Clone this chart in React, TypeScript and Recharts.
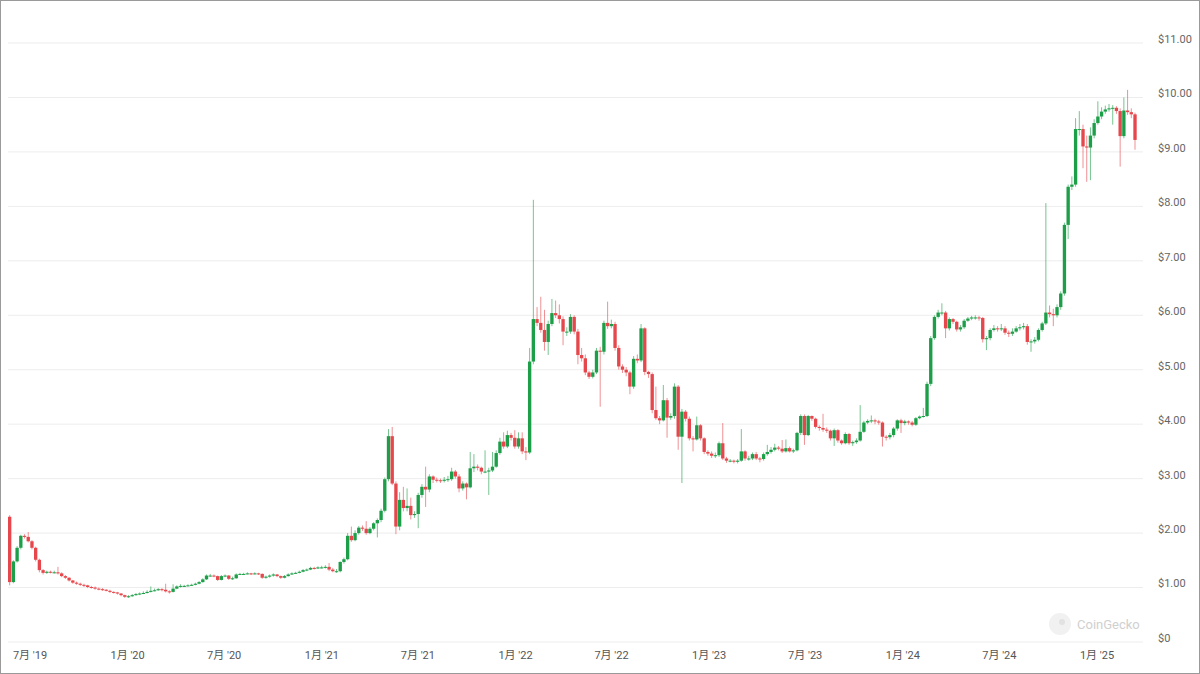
import React from 'react';
import { ComposedChart, Bar, XAxis, YAxis, CartesianGrid } from 'recharts';

const GREEN = '#1c9f48';
const RED = '#e5474c';

// first weekly candle and the open price of it
const firstWeek = Date.UTC(2019, 4, 24);
const firstOpen = 2.3;

// one row per week: [high, low, close]  (open = previous close)
const weeks2019 = [
  [2.33, 1.04, 1.1], [1.5, 1.08, 1.48], [1.76, 1.46, 1.73], [1.97, 1.7, 1.95], [1.98, 1.9, 1.93],
  [2.02, 1.83, 1.85], [1.87, 1.7, 1.73], [1.75, 1.48, 1.51], [1.53, 1.28, 1.32], [1.34, 1.24, 1.27],
  [1.31, 1.25, 1.29], [1.31, 1.26, 1.28], [1.31, 1.26, 1.28], [1.38, 1.24, 1.26], [1.28, 1.19, 1.21],
  [1.23, 1.16, 1.18], [1.19, 1.11, 1.13], [1.14, 1.07, 1.09], [1.11, 1.05, 1.07], [1.09, 1.03, 1.05],
  [1.07, 1.01, 1.04], [1.05, 0.99, 1.01], [1.03, 0.98, 1.0], [1.02, 0.96, 0.98], [1.0, 0.95, 0.97],
  [0.99, 0.94, 0.96], [0.97, 0.93, 0.94], [0.96, 0.9, 0.92], [0.93, 0.89, 0.91], [0.92, 0.87, 0.89],
  [0.9, 0.84, 0.86], [0.87, 0.81, 0.83],
];

const weeks2020 = [
  [0.86, 0.81, 0.84], [0.88, 0.83, 0.86], [0.9, 0.85, 0.88], [0.91, 0.86, 0.89], [0.93, 0.88, 0.9],
  [0.95, 0.89, 0.92], [1.02, 0.91, 0.94], [0.98, 0.93, 0.95], [0.99, 0.94, 0.97], [0.99, 0.93, 0.96],
  [1.07, 0.91, 0.93], [0.95, 0.89, 0.92], [1.06, 0.91, 0.98], [1.04, 0.97, 1.02], [1.06, 1.0, 1.03],
  [1.05, 1.01, 1.03], [1.06, 1.02, 1.04], [1.07, 1.03, 1.05], [1.09, 1.04, 1.07], [1.12, 1.06, 1.1],
  [1.17, 1.09, 1.15], [1.24, 1.14, 1.22], [1.25, 1.2, 1.22], [1.24, 1.19, 1.21], [1.22, 1.12, 1.14],
  [1.23, 1.13, 1.21], [1.24, 1.19, 1.22], [1.23, 1.14, 1.16], [1.2, 1.14, 1.17], [1.26, 1.16, 1.24],
  [1.27, 1.23, 1.25], [1.27, 1.23, 1.25], [1.28, 1.24, 1.26], [1.27, 1.23, 1.25], [1.28, 1.24, 1.26],
  [1.27, 1.23, 1.25], [1.26, 1.16, 1.18], [1.22, 1.16, 1.2], [1.24, 1.18, 1.22], [1.26, 1.2, 1.24],
  [1.25, 1.19, 1.21], [1.22, 1.16, 1.18], [1.23, 1.17, 1.21], [1.26, 1.2, 1.24], [1.28, 1.23, 1.26],
  [1.29, 1.25, 1.27], [1.31, 1.26, 1.29], [1.34, 1.28, 1.32], [1.35, 1.3, 1.33], [1.38, 1.32, 1.36],
  [1.38, 1.33, 1.35], [1.39, 1.34, 1.37],
];

const weeks2021 = [
  [1.4, 1.35, 1.37], [1.41, 1.35, 1.38], [1.45, 1.3, 1.33], [1.36, 1.28, 1.3], [1.34, 1.27, 1.3],
  [1.48, 1.28, 1.47], [1.55, 1.44, 1.52], [2.0, 1.5, 1.95], [2.12, 1.84, 1.87], [2.05, 1.85, 2.0],
  [2.13, 1.97, 2.1], [2.14, 2.04, 2.08], [2.22, 1.97, 2.0], [2.11, 1.98, 2.08], [2.2, 2.05, 2.18],
  [2.27, 1.92, 2.24], [2.45, 2.2, 2.41], [3.02, 2.38, 2.99], [3.91, 2.95, 3.78], [3.95, 2.88, 2.91],
  [2.95, 1.98, 2.12], [2.75, 2.05, 2.61], [2.85, 2.4, 2.46], [2.82, 2.4, 2.5], [2.65, 2.25, 2.33],
  [2.4, 2.28, 2.35], [2.74, 2.09, 2.7], [2.9, 2.65, 2.85], [3.22, 2.48, 2.8], [3.08, 2.75, 3.04],
  [3.06, 2.92, 2.98], [3.02, 2.93, 2.97], [3.0, 2.92, 2.96], [3.03, 2.93, 2.98], [3.05, 2.94, 2.99],
  [3.2, 2.96, 3.13], [3.16, 3.0, 3.04], [3.08, 2.75, 2.82], [2.95, 2.78, 2.91], [2.93, 2.62, 2.84],
  [3.49, 2.82, 3.19], [3.45, 3.12, 3.22], [3.26, 3.15, 3.2], [3.22, 3.08, 3.13], [3.52, 3.1, 3.13],
  [3.2, 2.7, 3.15], [3.49, 3.12, 3.22], [3.52, 3.2, 3.47], [3.75, 3.44, 3.68], [3.85, 3.55, 3.59],
  [3.88, 3.56, 3.8], [3.84, 3.7, 3.75], [3.89, 3.55, 3.59],
];

const weeks2022 = [
  [3.85, 3.55, 3.74], [3.85, 3.45, 3.5], [3.58, 3.34, 3.48], [5.4, 3.45, 5.15], [8.12, 5.1, 5.93],
  [6.15, 5.8, 5.86], [6.34, 5.68, 5.73], [6.1, 5.35, 5.51], [5.9, 5.27, 5.84], [6.3, 5.8, 6.04],
  [6.27, 5.95, 6.0], [6.2, 5.85, 5.93], [5.98, 5.45, 5.7], [5.78, 5.62, 5.7], [6.02, 5.66, 5.97],
  [6.0, 5.65, 5.7], [5.75, 5.1, 5.27], [5.4, 5.15, 5.21], [5.28, 4.9, 4.95], [4.98, 4.83, 4.87],
  [5.0, 4.84, 4.95], [5.4, 4.92, 5.35], [5.42, 4.32, 5.33], [5.9, 5.28, 5.86], [6.25, 5.75, 5.8],
  [5.92, 5.76, 5.84], [5.88, 5.35, 5.4], [5.45, 5.0, 5.06], [5.1, 4.94, 5.0], [5.05, 4.88, 4.95],
  [4.98, 4.55, 4.69], [5.25, 4.65, 5.2], [5.28, 5.12, 5.17], [5.84, 5.14, 5.76], [5.78, 4.9, 4.96],
  [4.98, 4.85, 4.92], [4.95, 4.2, 4.26], [4.69, 4.08, 4.11], [4.15, 4.0, 4.07], [4.72, 4.05, 4.44],
  [4.48, 3.75, 4.12], [4.2, 4.08, 4.15], [4.75, 4.1, 4.69], [4.72, 3.53, 3.77], [4.28, 2.92, 4.23],
  [4.26, 4.05, 4.1], [4.14, 3.7, 3.74], [3.78, 3.5, 3.72], [4.14, 3.7, 3.98], [4.0, 3.7, 3.74],
  [3.76, 3.45, 3.49], [3.52, 3.42, 3.46],
];

const weeks2023 = [
  [3.5, 3.38, 3.42], [3.48, 3.38, 3.43], [3.68, 3.4, 3.65], [4.02, 3.34, 3.37], [3.4, 3.29, 3.33],
  [3.36, 3.3, 3.33], [3.35, 3.28, 3.31], [3.36, 3.28, 3.33], [3.91, 3.31, 3.5], [3.52, 3.33, 3.37],
  [3.42, 3.33, 3.37], [3.48, 3.34, 3.45], [3.49, 3.34, 3.37], [3.4, 3.3, 3.36], [3.48, 3.33, 3.45],
  [3.62, 3.42, 3.49], [3.58, 3.46, 3.53], [3.64, 3.5, 3.57], [3.6, 3.52, 3.55], [3.71, 3.47, 3.5],
  [3.72, 3.48, 3.56], [3.59, 3.48, 3.5], [3.55, 3.47, 3.52], [3.86, 3.5, 3.84], [4.18, 3.8, 4.15],
  [4.18, 3.62, 3.8], [4.17, 3.78, 4.15], [4.16, 4.06, 4.1], [4.12, 3.92, 3.95], [3.98, 3.88, 3.93],
  [4.19, 3.86, 3.9], [3.94, 3.84, 3.88], [3.9, 3.7, 3.74], [3.92, 3.6, 3.89], [3.91, 3.66, 3.7],
  [3.72, 3.62, 3.65], [3.85, 3.63, 3.82], [3.84, 3.62, 3.65], [3.7, 3.6, 3.67], [3.74, 3.64, 3.7],
  [4.35, 3.68, 3.86], [4.06, 3.84, 4.03], [4.09, 4.0, 4.06], [4.16, 4.02, 4.07], [4.1, 4.0, 4.05],
  [4.08, 3.99, 4.03], [4.05, 3.59, 3.77], [3.8, 3.7, 3.76], [3.84, 3.72, 3.8], [3.95, 3.76, 3.92],
  [4.09, 3.88, 4.07], [4.1, 3.84, 4.02],
];

const weeks2024 = [
  [4.08, 3.98, 4.05], [4.07, 3.99, 4.03], [4.06, 3.96, 3.99], [4.13, 3.97, 4.11], [4.16, 4.09, 4.14],
  [4.3, 4.12, 4.15], [4.78, 4.13, 4.74], [5.62, 4.7, 5.58], [6.0, 5.55, 5.97], [6.1, 5.94, 6.05],
  [6.22, 6.0, 6.05], [6.08, 5.58, 5.76], [5.96, 5.72, 5.93], [5.95, 5.84, 5.88], [5.9, 5.7, 5.74],
  [5.82, 5.7, 5.78], [5.93, 5.75, 5.9], [5.97, 5.88, 5.94], [5.99, 5.91, 5.96], [6.0, 5.92, 5.96],
  [5.99, 5.9, 5.95], [5.97, 5.5, 5.56], [5.62, 5.36, 5.58], [5.76, 5.54, 5.73], [5.82, 5.7, 5.76],
  [5.8, 5.7, 5.75], [5.84, 5.71, 5.76], [5.8, 5.64, 5.68], [5.72, 5.6, 5.66], [5.76, 5.62, 5.7],
  [5.8, 5.68, 5.76], [5.84, 5.72, 5.78], [5.86, 5.74, 5.8], [5.84, 5.46, 5.51], [5.56, 5.33, 5.52],
  [5.6, 5.48, 5.55], [5.76, 5.52, 5.73], [5.88, 5.7, 5.85], [8.06, 5.82, 6.05], [6.18, 5.96, 6.02],
  [6.12, 5.8, 6.0], [6.2, 5.96, 6.15], [6.44, 6.1, 6.4], [7.7, 6.36, 7.66], [8.4, 7.4, 8.36],
  [8.55, 8.3, 8.4], [9.62, 8.36, 9.42], [9.75, 9.3, 9.42], [9.5, 8.7, 9.1], [9.3, 8.45, 9.08],
  [9.45, 8.48, 9.3], [9.6, 9.25, 9.53],
];

const weeks2025 = [
  [9.93, 9.5, 9.65], [9.82, 9.6, 9.74], [9.85, 9.7, 9.78], [9.88, 9.74, 9.8], [9.86, 9.5, 9.81],
  [9.84, 9.7, 9.75], [9.8, 8.73, 9.29], [10.0, 9.25, 9.76], [10.14, 9.68, 9.73], [9.8, 9.62, 9.69],
  [9.72, 9.04, 9.22],
];

const tickDates = [
  Date.UTC(2019, 6, 1), Date.UTC(2020, 0, 1), Date.UTC(2020, 6, 1), Date.UTC(2021, 0, 1),
  Date.UTC(2021, 6, 1), Date.UTC(2022, 0, 1), Date.UTC(2022, 6, 1), Date.UTC(2023, 0, 1),
  Date.UTC(2023, 6, 1), Date.UTC(2024, 0, 1), Date.UTC(2024, 6, 1), Date.UTC(2025, 0, 1),
];
const tickLabels = [
  "7月 '19", "1月 '20", "7月 '20", "1月 '21", "7月 '21", "1月 '22",
  "7月 '22", "1月 '23", "7月 '23", "1月 '24", "7月 '24", "1月 '25",
];
const priceTicks = [0, 1, 2, 3, 4, 5, 6, 7, 8, 9, 10, 11];

const WEEK = 7 * 24 * 3600 * 1000;
const rows = [...weeks2019, ...weeks2020, ...weeks2021, ...weeks2022, ...weeks2023, ...weeks2024, ...weeks2025];
let prevClose = firstOpen;
const data = rows.map(([high, low, close], i) => {
  const open = prevClose;
  prevClose = close;
  return { t: firstWeek + i * WEEK, open, high, low, close, range: [low, high] };
});

const Candle = (props: any) => {
  const { x, y, width, height, payload } = props;
  if (!payload || height == null) return null;
  const { open, close, high, low } = payload;
  const color = close >= open ? GREEN : RED;
  const top = Math.min(y, y + height);
  const h = Math.abs(height);
  const toY = (v: number) => top + ((high - v) / (high - low)) * h;
  const bodyTop = toY(Math.max(open, close));
  const bodyBot = toY(Math.min(open, close));
  const cx = x + width / 2;
  return (
    <g>
      <line x1={cx} x2={cx} y1={top} y2={top + h} stroke={color} strokeOpacity={0.6} strokeWidth={1} />
      <rect x={x} y={bodyTop} width={width} height={Math.max(1, bodyBot - bodyTop)} fill={color} />
    </g>
  );
};

const fmtPrice = (v: number) => (v === 0 ? '$0' : `$${v.toFixed(2)}`);
const fmtDate = (v: number) => tickLabels[tickDates.indexOf(v)] ?? '';

export default function App() {
  return (
    <div
      style={{
        position: 'absolute',
        left: 0,
        top: 0,
        width: 1200,
        height: 674,
        boxSizing: 'border-box',
        border: '1px solid #9a9a9a',
        background: '#fff',
        fontFamily: 'Roboto, "Noto Sans CJK JP", sans-serif',
      }}
    >
      <ComposedChart width={1198} height={672} data={data} margin={{ top: 42, right: 0, bottom: 0, left: 7 }}>
        <CartesianGrid vertical={false} stroke="#ededed" />
        <XAxis
          dataKey="t"
          type="number"
          domain={[Date.UTC(2019, 4, 20, 12), Date.UTC(2025, 2, 28, 17)]}
          ticks={tickDates}
          tickFormatter={fmtDate}
          interval={0}
          allowDataOverflow
          axisLine={false}
          tickLine={false}
          tickSize={0}
          tickMargin={9}
          height={31}
          tick={{ fontSize: 11, fill: '#555' }}
        />
        <YAxis
          orientation="right"
          domain={[0, 11]}
          ticks={priceTicks}
          tickFormatter={fmtPrice}
          axisLine={false}
          tickLine={false}
          tickSize={0}
          tickMargin={15}
          width={56}
          tick={{ fontSize: 11, fill: '#666', dy: -4 }}
        />
        <Bar dataKey="range" barSize={4} shape={Candle} isAnimationActive={false} />
      </ComposedChart>
      <svg style={{ position: 'absolute', left: 1045, top: 608 }} width={100} height={30}>
        <circle cx={14} cy={15} r={11} fill="#f1f1f1" />
        <circle cx={16} cy={13} r={3} fill="#e2e2e2" />
        <text x={31} y={20} fontSize={13} fill="#d0d0d0" fontFamily="Roboto, sans-serif">
          CoinGecko
        </text>
      </svg>
    </div>
  );
}
